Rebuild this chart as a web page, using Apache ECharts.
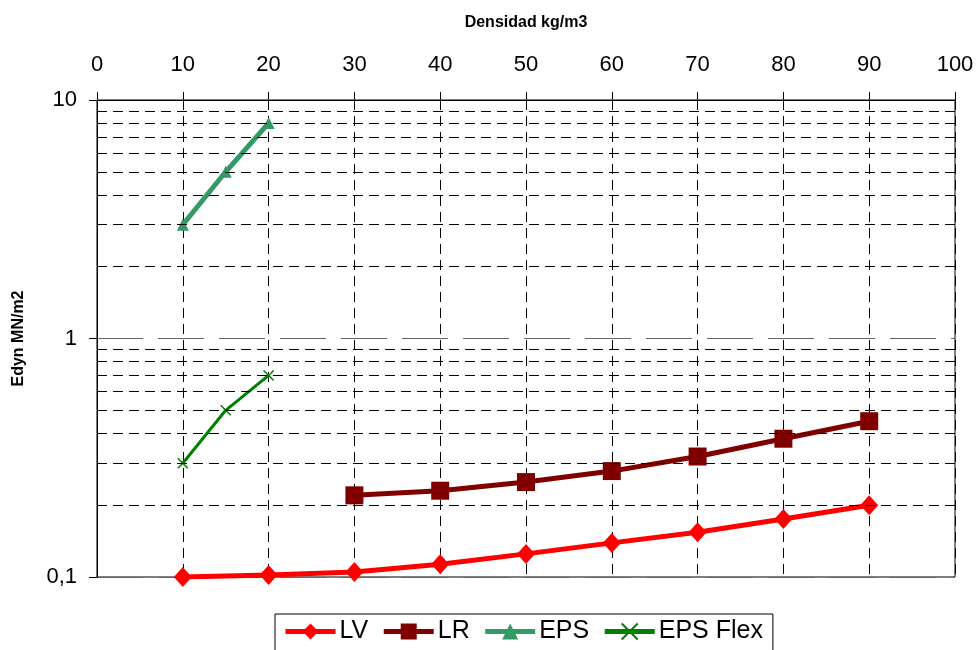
<!DOCTYPE html>
<html>
<head>
<meta charset="utf-8">
<script src="https://cdn.jsdelivr.net/npm/echarts@6/dist/echarts.min.js"></script>
<style>
  html, body { margin: 0; padding: 0; background: #fff; }
  #chart { width: 980px; height: 650px; }
</style>
</head>
<body>
<div id="chart"></div>
<script>
// Density (kg/m3) on the top axis, dynamic modulus (MN/m2) on a log axis
const densLV = [10, 20, 30, 40, 50, 60, 70, 80, 90];
const edynLV = [0.1, 0.102, 0.105, 0.113, 0.125, 0.139, 0.154, 0.175, 0.2];

const densLR = [30, 40, 50, 60, 70, 80, 90];
const edynLR = [0.22, 0.23, 0.25, 0.278, 0.32, 0.38, 0.45];

const densEPS = [10, 15, 20];
const edynEPS = [3, 5, 8];

const densEPSFlex = [10, 15, 20];
const edynEPSFlex = [0.3, 0.5, 0.7];

// Intermediate decade lines (2..9 within each decade)
const minorLevels = [0.2, 0.3, 0.4, 0.5, 0.6, 0.7, 0.8, 0.9, 2, 3, 4, 5, 6, 7, 8, 9];

const xName = 'Densidad kg/m3';
const yName = 'Edyn MN/m2';

const pairs = (xs, ys) => xs.map((x, i) => [x, ys[i]]);
const FONT = '"Liberation Sans", Arial, sans-serif';

const chart = echarts.init(document.getElementById('chart'), null, { renderer: 'canvas' });

chart.setOption({
  animation: false,
  textStyle: { fontFamily: FONT, color: '#000' },
  grid: {
    left: 97, right: 25, top: 100, bottom: 73,
    show: true, borderColor: '#000', borderWidth: 1, backgroundColor: 'transparent'
  },
  xAxis: {
    type: 'value',
    position: 'top',
    min: 0, max: 100, interval: 10,
    name: xName,
    nameLocation: 'middle',
    nameGap: 69,
    nameTextStyle: { fontSize: 16, fontWeight: 'bold', fontFamily: FONT, color: '#000' },
    axisLine: { show: true, lineStyle: { color: '#000', width: 1 } },
    axisTick: { show: true, inside: false, length: 8, lineStyle: { color: '#000' } },
    axisLabel: { fontSize: 22, color: '#000', margin: 24, fontFamily: FONT },
    splitLine: { show: true, lineStyle: { color: '#000', type: [10, 6], width: 1 } }
  },
  yAxis: {
    type: 'log',
    logBase: 10,
    min: 0.1, max: 10,
    name: yName,
    nameLocation: 'middle',
    nameGap: 70,
    nameRotate: 90,
    nameTextStyle: { fontSize: 16, fontWeight: 'bold', fontFamily: FONT, color: '#000' },
    axisLine: { show: true, lineStyle: { color: '#000', width: 1 } },
    axisTick: { show: true, length: 8, lineStyle: { color: '#000' } },
    axisLabel: {
      fontSize: 22, color: '#000', margin: 20, fontFamily: FONT,
      formatter: v => String(v).replace('.', ',')
    },
    splitLine: { show: true, lineStyle: { color: '#666', type: [46, 15], width: 1 } }
  },
  legend: {
    data: ['LV', 'LR', 'EPS', 'EPS Flex'],
    left: 275,
    top: 614,
    itemWidth: 50,
    itemHeight: 20,
    itemGap: 13,
    padding: [5, 10, 12, 8],
    borderColor: '#000',
    borderWidth: 1,
    lineStyle: { width: 5 },
    textStyle: { fontSize: 25, color: '#000', fontFamily: FONT, padding: [0, 0, 0, -1] }
  },
  series: [
    {
      name: 'grid-minor',
      type: 'line',
      data: [],
      silent: true,
      z: 1,
      markLine: {
        silent: true,
        symbol: ['none', 'none'],
        label: { show: false },
        lineStyle: { color: '#000', type: [10, 6], width: 1 },
        animation: false,
        data: minorLevels.map(v => ({ yAxis: v }))
      }
    },
    {
      name: 'LV',
      type: 'line',
      data: pairs(densLV, edynLV),
      z: 3,
      symbol: 'diamond',
      symbolSize: [18, 20],
      color: '#ff0000',
      lineStyle: { width: 5, color: '#ff0000' },
      itemStyle: { color: '#ff0000' }
    },
    {
      name: 'LR',
      type: 'line',
      data: pairs(densLR, edynLR),
      z: 3,
      symbol: 'rect',
      symbolSize: 18,
      color: '#800000',
      lineStyle: { width: 5, color: '#800000' },
      itemStyle: { color: '#800000' }
    },
    {
      name: 'EPS',
      type: 'line',
      data: pairs(densEPS, edynEPS),
      z: 3,
      symbol: 'triangle',
      symbolSize: 12,
      color: '#339966',
      lineStyle: { width: 5, color: '#339966' },
      itemStyle: { color: '#339966' }
    },
    {
      name: 'EPS Flex',
      type: 'line',
      data: pairs(densEPSFlex, edynEPSFlex),
      z: 3,
      symbol: 'path://M0,0L10,10M10,0L0,10',
      symbolSize: 10,
      color: '#008000',
      lineStyle: { width: 3, color: '#008000' },
      itemStyle: { color: '#008000', borderColor: '#008000', borderWidth: 1.5 }
    }
  ]
});
</script>
</body>
</html>
